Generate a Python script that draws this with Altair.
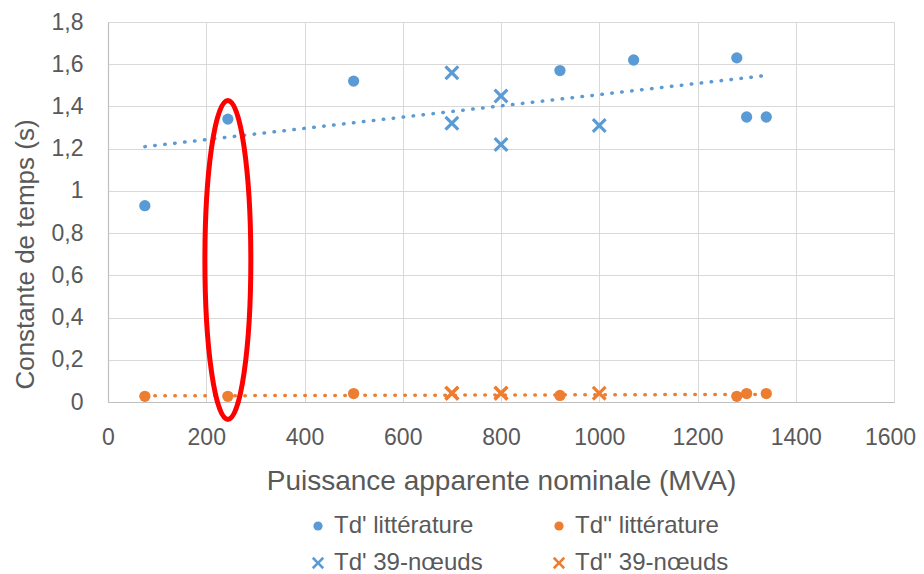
import altair as alt
import pandas as pd

BLUE = "#5B9BD5"
ORANGE = "#ED7D31"
TEXT = "#595959"
FONT = "Liberation Sans"

# Series names (legend order: column-major -> col 1 = Td', col 2 = Td'')
series = ["Td' littérature", "Td' 39-nœuds", "Td'' littérature", "Td'' 39-nœuds"]
series_colors = [BLUE, BLUE, ORANGE, ORANGE]

# Td' littérature
td1_lit_mva = [75, 244, 500, 920, 1070, 1280, 1300, 1340]
td1_lit_val = [0.93, 1.34, 1.52, 1.57, 1.62, 1.63, 1.35, 1.35]
# Td'' littérature
td2_lit_mva = [75, 244, 500, 920, 1280, 1300, 1340]
td2_lit_val = [0.027, 0.027, 0.04, 0.031, 0.027, 0.04, 0.04]
# Td' 39-nœuds
td1_39_mva = [700, 700, 800, 800, 1000]
td1_39_val = [1.56, 1.32, 1.45, 1.22, 1.31]
# Td'' 39-nœuds
td2_39_mva = [700, 700, 800, 800, 1000]
td2_39_val = [0.042, 0.042, 0.042, 0.042, 0.042]

x_ticks = [0, 200, 400, 600, 800, 1000, 1200, 1400, 1600]
y_ticks = [0, 0.2, 0.4, 0.6, 0.8, 1.0, 1.2, 1.4, 1.6, 1.8]

# highlighted annotation (red ellipse) around the 244 MVA machine
highlight_mva = [244]
highlight_val = [0.673]

rows = []
for name, xs, ys in [
    ("Td' littérature", td1_lit_mva, td1_lit_val),
    ("Td'' littérature", td2_lit_mva, td2_lit_val),
    ("Td' 39-nœuds", td1_39_mva, td1_39_val),
    ("Td'' 39-nœuds", td2_39_mva, td2_39_val),
]:
    for xv, yv in zip(xs, ys):
        rows.append({"mva": xv, "td": yv, "serie": name})
df = pd.DataFrame(rows)
ell_df = pd.DataFrame({"mva": highlight_mva, "td": highlight_val})

X_SHAPE = ("M-1.33,-0.93L-0.93,-1.33L0,-0.4L0.93,-1.33L1.33,-0.93L0.4,0"
           "L1.33,0.93L0.93,1.33L0,0.4L-0.93,1.33L-1.33,0.93L-0.4,0Z")
ELLIPSE = "M0,-1A0.144,1 0 1,1 0,1A0.144,1 0 1,1 0,-1Z"
series_shapes = ["circle", X_SHAPE, "circle", X_SHAPE]

xscale = alt.Scale(domain=[0, 1600], nice=False, zero=False)
yscale = alt.Scale(domain=[0, 1.8], nice=False)

x_axis = alt.Axis(
    values=x_ticks, format="d", title="Puissance apparente nominale (MVA)",
    grid=True, gridColor="#D9D9D9", domainColor="#BFBFBF", domainWidth=1.2,
    ticks=False, tickSize=0, labelPadding=24, labelFontSize=23, labelFont=FONT,
    labelColor=TEXT, labelFlush=False, labelOverlap=False,
    labelOffset={"condition": {"test": "datum.value == 1600", "value": -4}, "value": 0},
    titleFont=FONT, titleFontSize=28, titleColor=TEXT,
    titleFontWeight="normal", titleBaseline="alphabetic", titleY=87,
)
y_axis = alt.Axis(
    values=y_ticks, labelExpr="replace(format(datum.value, '~g'), '.', ',')",
    title="Constante de temps (s)",
    grid=True, gridColor="#D9D9D9", domainColor="#BFBFBF", domainWidth=1.2,
    ticks=False, tickSize=0, labelPadding=25, labelFontSize=23, labelFont=FONT,
    labelColor=TEXT, labelFlush=False, labelOverlap=False,
    titleFont=FONT, titleFontSize=26, titleColor=TEXT,
    titleFontWeight="normal", titleAngle=-90, titleX=-75, titleY=232,
    titleAlign="center", titleBaseline="alphabetic",
)

legend = alt.Legend(
    title=None, orient="none", legendX=198, legendY=492, columns=2,
    columnPadding=64, rowPadding=13, labelFontSize=24, labelFont=FONT,
    labelColor=TEXT, symbolSize=85, symbolStrokeWidth=0, labelOffset=4,
    padding=0,
)

trend_style = dict(strokeDash=[0.5, 9.5], strokeCap="round", strokeWidth=3.5)

trend_blue = (
    alt.Chart(df)
    .transform_filter(alt.FieldEqualPredicate(field="serie", equal="Td' littérature"))
    .transform_regression("mva", "td")
    .mark_line(color=BLUE, **trend_style)
    .encode(x=alt.X("mva:Q", scale=xscale, axis=x_axis),
            y=alt.Y("td:Q", scale=yscale, axis=y_axis))
)
trend_orange = (
    alt.Chart(df)
    .transform_filter(alt.FieldEqualPredicate(field="serie", equal="Td'' littérature"))
    .transform_regression("mva", "td")
    .mark_line(color=ORANGE, **trend_style)
    .encode(x=alt.X("mva:Q", scale=xscale, axis=x_axis),
            y=alt.Y("td:Q", scale=yscale, axis=y_axis))
)
points = (
    alt.Chart(df)
    .mark_point(filled=True, opacity=1, size=127)
    .encode(
        x=alt.X("mva:Q", scale=xscale, axis=x_axis),
        y=alt.Y("td:Q", scale=yscale, axis=y_axis),
        color=alt.Color("serie:N", scale=alt.Scale(domain=series, range=series_colors), legend=legend),
        shape=alt.Shape("serie:N", scale=alt.Scale(domain=series, range=series_shapes), legend=legend),
    )
)
ellipse = (
    alt.Chart(ell_df)
    .mark_point(shape=ELLIPSE, size=101761, color="#FF0000", filled=False,
                strokeWidth=5, opacity=1)
    .encode(x=alt.X("mva:Q", scale=xscale, axis=x_axis),
            y=alt.Y("td:Q", scale=yscale, axis=y_axis))
)

chart = (
    alt.layer(trend_blue, trend_orange, points, ellipse)
    .properties(width=786, height=380,
                padding={"left": 100, "top": 14, "right": 22, "bottom": 180},
                autosize=alt.AutoSizeParams(type="none"))
    .configure_view(stroke=None)
    .configure(background="white")
)

chart.save("out.html", embed_options={"renderer": "svg", "actions": False})
